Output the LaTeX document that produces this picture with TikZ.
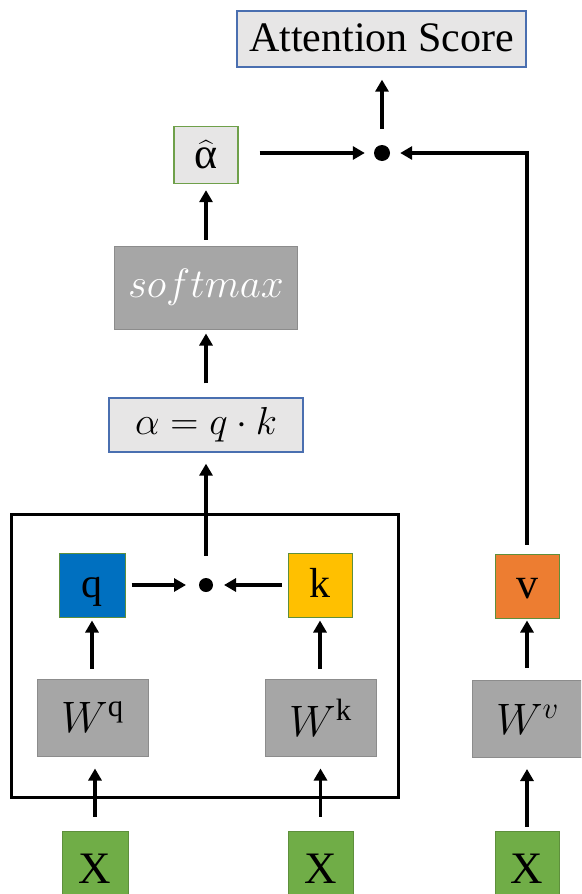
\RequirePackage{fix-cm}
\documentclass[tikz,border=0pt]{standalone}
\usepackage{amsmath}
\usepackage{fontspec}
\setmainfont{Liberation Serif}
\usetikzlibrary{arrows.meta,calc}
\definecolor{lightf}{HTML}{E7E6E6}
\definecolor{blueb}{HTML}{4A6FB0}
\definecolor{greenb}{HTML}{6FA04A}
\definecolor{greyf}{HTML}{A6A6A6}
\definecolor{greyb}{HTML}{8C8C8C}
\definecolor{qblue}{HTML}{0070C0}
\definecolor{kyel}{HTML}{FFC000}
\definecolor{vor}{HTML}{ED7D31}
\definecolor{xgreen}{HTML}{70AD47}
\definecolor{xgreenb}{HTML}{5E8F3C}
\begin{document}
\begin{tikzpicture}[x=1pt,y=-1pt,
  lightbox/.style={draw=blueb, fill=lightf, line width=1.3pt, inner sep=0pt},
  greybox/.style={draw=greyb, fill=greyf, line width=1pt, inner sep=0pt},
  colbox/.style={draw=xgreenb, line width=1pt, inner sep=0pt},
  letter/.style={text height=28pt, text depth=4pt},
  arr/.style={line width=3.5pt, -{Triangle[length=12pt,width=13pt]}},
  dotn/.style={circle, fill=black, inner sep=0pt},
  fs/.style={font=\fontsize{#1}{#1}\selectfont}
]
\clip (0,0) rectangle (581,894);
\useasboundingbox (0,0) rectangle (581,894);

% top part
\node[lightbox, fs=42, letter, minimum width=289pt, minimum height=56pt] (att) at (381.5,39) {Attention Score};
\node[dotn, minimum size=16pt] (dot1) at (382,153) {};
\node[lightbox, draw=greenb, fs=44, minimum width=64pt, minimum height=57pt] (ahat) at (206,155) {$\widehat{\text{α}}$};
\node[greybox, fs=41, text=white, minimum width=183pt, minimum height=83pt] (sm) at (206,287.5) {$softmax$};
\node[lightbox, fs=39, minimum width=194pt, minimum height=54pt] (alpha) at (206,425) {$\alpha = q\cdot k$\hspace{10pt}};

% big frame
\draw[line width=3pt] (11,514) rectangle (398,797);

\node[dotn, minimum size=14pt] (dot2) at (206,585) {};
\node[colbox, fill=qblue, fs=42, letter, minimum width=66pt, minimum height=64pt] (q) at (92,585) {q};
\node[colbox, fill=kyel, fs=42, letter, minimum width=64pt, minimum height=64pt] (k) at (320,585) {k};
\node[greybox, fs=44, minimum width=111pt, minimum height=77pt] (wq) at (92.5,717.5) {$W^{\mathrm{q}}$\hspace{8pt}};
\node[greybox, fs=44, minimum width=111pt, minimum height=77pt] (wk) at (320.5,717.5) {$W^{\mathrm{k}}$\hspace{8pt}};

% v column
\node[colbox, fill=vor, fs=44, letter, minimum width=64pt, minimum height=64pt] (v) at (527,586) {v};
\node[greybox, fs=44, minimum width=111pt, minimum height=77pt] (wv) at (527.5,719) {$W^{v}$\hspace{8pt}};

% inputs
\node[colbox, fill=xgreen, fs=45, letter, minimum width=66pt, minimum height=80pt] (x1) at (95,871) {X};
\node[colbox, fill=xgreen, fs=45, letter, minimum width=65pt, minimum height=80pt] (x2) at (320.5,871) {X};
\node[colbox, fill=xgreen, fs=45, letter, minimum width=64pt, minimum height=80pt] (x3) at (527,871) {X};

% arrows
\draw[arr, shorten <=14pt, shorten >=12pt] (x1.north) -- (x1.north |- wq.south);
\draw[arr, shorten <=14pt, shorten >=12pt] (x2.north) -- (x2.north |- wk.south);
\draw[arr, shorten <=4pt, shorten >=11pt] (x3.north) -- (x3.north |- wv.south);
\draw[arr, shorten <=10pt, shorten >=3pt] (q.south |- wq.north) -- (q.south);
\draw[arr, shorten <=10pt, shorten >=3pt] (k.south |- wk.north) -- (k.south);
\draw[arr, shorten <=12pt, shorten >=2pt] (v.south |- wv.north) -- (v.south);
\draw[arr, shorten <=6pt, shorten >=20pt] (q.east) -- (dot2.center);
\draw[arr, shorten <=6pt, shorten >=18pt] (k.west) -- (dot2.center);
\draw[arr, shorten <=22pt, shorten >=11pt] (dot2.north) -- (alpha.south);
\draw[arr, shorten <=14pt, shorten >=4pt] (alpha.north) -- (sm.south);
\draw[arr, shorten <=6pt, shorten >=6pt] (sm.north) -- (ahat.south);
\draw[arr, shorten <=21pt, shorten >=9pt] (ahat.east |- dot1.west) -- (dot1.west);
\draw[arr, shorten <=16pt, shorten >=12pt] (dot1.north) -- (dot1.north |- att.south);
\draw[arr, shorten <=9pt, shorten >=10pt] (v.north) |- (dot1.east);
\end{tikzpicture}
\end{document}
